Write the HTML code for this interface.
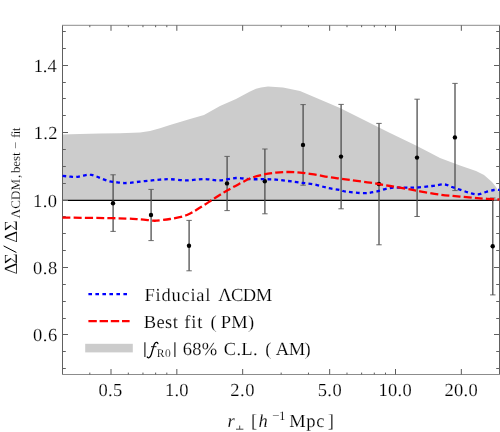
<!DOCTYPE html>
<html><head><meta charset="utf-8">
<style>
html,body{margin:0;padding:0;background:#fff;}
body{width:500px;height:432px;overflow:hidden;}
svg{display:block;will-change:transform;}
text{font-family:"Liberation Serif",serif;fill:#000;text-rendering:geometricPrecision;stroke:#fff;stroke-width:0.16px;}
</style></head><body>
<svg width="500" height="432" viewBox="0 0 500 432">
<rect width="500" height="432" fill="#fff"/>
<path fill="#cccccc" d="M62.5,200 L62.5,134.6 L80.0,134.0 L100.0,133.4 L120.0,133.2 L140.0,132.4 L150.0,131.0 L160.0,128.2 L170.0,125.0 L190.0,119.0 L204.0,115.0 L220.0,106.0 L236.0,99.0 L250.0,91.6 L256.0,88.8 L261.0,87.4 L268.0,86.4 L283.0,87.6 L300.0,91.0 L320.0,99.6 L340.0,108.0 L364.0,120.0 L390.0,133.0 L416.0,145.5 L430.0,152.8 L440.0,158.0 L460.0,165.6 L476.0,171.0 L484.0,175.0 L492.0,182.0 L496.0,187.0 L499.0,192.0 L499.5,200 Z"/>
<line x1="62.5" y1="200.3" x2="499.5" y2="200.3" stroke="#000" stroke-width="1.15"/>
<path d="M62.5,25 V375 M499.5,25 V375" stroke="#606060" stroke-width="1" fill="none"/>
<path d="M62,25.3 H500 M62,374.5 H500" stroke="#8c8c8c" stroke-width="1" fill="none"/>
<g stroke="#606060" stroke-width="1">
<line x1="62.50" y1="368.50" x2="65.80" y2="368.50"/>
<line x1="499.50" y1="368.50" x2="496.20" y2="368.50"/>
<line x1="62.50" y1="351.50" x2="65.80" y2="351.50"/>
<line x1="499.50" y1="351.50" x2="496.20" y2="351.50"/>
<line x1="62.50" y1="334.50" x2="68.00" y2="334.50"/>
<line x1="499.50" y1="334.50" x2="494.00" y2="334.50"/>
<line x1="62.50" y1="318.50" x2="65.80" y2="318.50"/>
<line x1="499.50" y1="318.50" x2="496.20" y2="318.50"/>
<line x1="62.50" y1="301.50" x2="65.80" y2="301.50"/>
<line x1="499.50" y1="301.50" x2="496.20" y2="301.50"/>
<line x1="62.50" y1="284.50" x2="65.80" y2="284.50"/>
<line x1="499.50" y1="284.50" x2="496.20" y2="284.50"/>
<line x1="62.50" y1="267.50" x2="68.00" y2="267.50"/>
<line x1="499.50" y1="267.50" x2="494.00" y2="267.50"/>
<line x1="62.50" y1="250.50" x2="65.80" y2="250.50"/>
<line x1="499.50" y1="250.50" x2="496.20" y2="250.50"/>
<line x1="62.50" y1="233.50" x2="65.80" y2="233.50"/>
<line x1="499.50" y1="233.50" x2="496.20" y2="233.50"/>
<line x1="62.50" y1="216.50" x2="65.80" y2="216.50"/>
<line x1="499.50" y1="216.50" x2="496.20" y2="216.50"/>
<line x1="62.50" y1="200.50" x2="68.00" y2="200.50"/>
<line x1="499.50" y1="200.50" x2="494.00" y2="200.50"/>
<line x1="62.50" y1="183.50" x2="65.80" y2="183.50"/>
<line x1="499.50" y1="183.50" x2="496.20" y2="183.50"/>
<line x1="62.50" y1="166.50" x2="65.80" y2="166.50"/>
<line x1="499.50" y1="166.50" x2="496.20" y2="166.50"/>
<line x1="62.50" y1="149.50" x2="65.80" y2="149.50"/>
<line x1="499.50" y1="149.50" x2="496.20" y2="149.50"/>
<line x1="62.50" y1="132.50" x2="68.00" y2="132.50"/>
<line x1="499.50" y1="132.50" x2="494.00" y2="132.50"/>
<line x1="62.50" y1="115.50" x2="65.80" y2="115.50"/>
<line x1="499.50" y1="115.50" x2="496.20" y2="115.50"/>
<line x1="62.50" y1="98.50" x2="65.80" y2="98.50"/>
<line x1="499.50" y1="98.50" x2="496.20" y2="98.50"/>
<line x1="62.50" y1="82.50" x2="65.80" y2="82.50"/>
<line x1="499.50" y1="82.50" x2="496.20" y2="82.50"/>
<line x1="62.50" y1="65.50" x2="68.00" y2="65.50"/>
<line x1="499.50" y1="65.50" x2="494.00" y2="65.50"/>
<line x1="62.50" y1="48.50" x2="65.80" y2="48.50"/>
<line x1="499.50" y1="48.50" x2="496.20" y2="48.50"/>
<line x1="62.50" y1="31.50" x2="65.80" y2="31.50"/>
<line x1="499.50" y1="31.50" x2="496.20" y2="31.50"/>
</g>
<g stroke="#5a5a5a" stroke-width="1">
<line x1="111.00" y1="374.50" x2="111.00" y2="369.00"/>
<line x1="111.00" y1="25.30" x2="111.00" y2="30.80"/>
<line x1="176.83" y1="374.50" x2="176.83" y2="369.00"/>
<line x1="176.83" y1="25.30" x2="176.83" y2="30.80"/>
<line x1="242.66" y1="374.50" x2="242.66" y2="369.00"/>
<line x1="242.66" y1="25.30" x2="242.66" y2="30.80"/>
<line x1="329.67" y1="374.50" x2="329.67" y2="369.00"/>
<line x1="329.67" y1="25.30" x2="329.67" y2="30.80"/>
<line x1="395.50" y1="374.50" x2="395.50" y2="369.00"/>
<line x1="395.50" y1="25.30" x2="395.50" y2="30.80"/>
<line x1="461.33" y1="374.50" x2="461.33" y2="369.00"/>
<line x1="461.33" y1="25.30" x2="461.33" y2="30.80"/>
<line x1="89.81" y1="374.50" x2="89.81" y2="372.60"/>
<line x1="89.81" y1="25.30" x2="89.81" y2="27.20"/>
<line x1="128.32" y1="374.50" x2="128.32" y2="372.60"/>
<line x1="128.32" y1="25.30" x2="128.32" y2="27.20"/>
<line x1="142.96" y1="374.50" x2="142.96" y2="372.60"/>
<line x1="142.96" y1="25.30" x2="142.96" y2="27.20"/>
<line x1="155.64" y1="374.50" x2="155.64" y2="372.60"/>
<line x1="155.64" y1="25.30" x2="155.64" y2="27.20"/>
<line x1="166.82" y1="374.50" x2="166.82" y2="372.60"/>
<line x1="166.82" y1="25.30" x2="166.82" y2="27.20"/>
<line x1="281.16" y1="374.50" x2="281.16" y2="372.60"/>
<line x1="281.16" y1="25.30" x2="281.16" y2="27.20"/>
<line x1="308.48" y1="374.50" x2="308.48" y2="372.60"/>
<line x1="308.48" y1="25.30" x2="308.48" y2="27.20"/>
<line x1="346.99" y1="374.50" x2="346.99" y2="372.60"/>
<line x1="346.99" y1="25.30" x2="346.99" y2="27.20"/>
<line x1="361.63" y1="374.50" x2="361.63" y2="372.60"/>
<line x1="361.63" y1="25.30" x2="361.63" y2="27.20"/>
<line x1="374.31" y1="374.50" x2="374.31" y2="372.60"/>
<line x1="374.31" y1="25.30" x2="374.31" y2="27.20"/>
<line x1="385.49" y1="374.50" x2="385.49" y2="372.60"/>
<line x1="385.49" y1="25.30" x2="385.49" y2="27.20"/>
</g>
<g stroke="#484848" stroke-width="1.25" fill="none">
<path d="M113.1,174.8 V231.4"/><path stroke-width="0.9" stroke="#5a5a5a" d="M110.4,174.8 H115.8 M110.4,231.4 H115.8"/>
<path d="M151.1,189.4 V240.6"/><path stroke-width="0.9" stroke="#5a5a5a" d="M148.4,189.4 H153.8 M148.4,240.6 H153.8"/>
<path d="M189.1,220.4 V270.8"/><path stroke-width="0.9" stroke="#5a5a5a" d="M186.4,220.4 H191.8 M186.4,270.8 H191.8"/>
<path d="M227.1,156.4 V210.6"/><path stroke-width="0.9" stroke="#5a5a5a" d="M224.4,156.4 H229.8 M224.4,210.6 H229.8"/>
<path d="M264.9,149.0 V213.8"/><path stroke-width="0.9" stroke="#5a5a5a" d="M262.2,149.0 H267.6 M262.2,213.8 H267.6"/>
<path d="M303.1,104.6 V185.2"/><path stroke-width="0.9" stroke="#5a5a5a" d="M300.4,104.6 H305.8 M300.4,185.2 H305.8"/>
<path d="M341.1,104.4 V208.8"/><path stroke-width="0.9" stroke="#5a5a5a" d="M338.4,104.4 H343.8 M338.4,208.8 H343.8"/>
<path d="M379.0,123.4 V244.8"/><path stroke-width="0.9" stroke="#5a5a5a" d="M376.3,123.4 H381.7 M376.3,244.8 H381.7"/>
<path d="M417.1,99.2 V216.5"/><path stroke-width="0.9" stroke="#5a5a5a" d="M414.4,99.2 H419.8 M414.4,216.5 H419.8"/>
<path d="M455.0,83.4 V190.6"/><path stroke-width="0.9" stroke="#5a5a5a" d="M452.3,83.4 H457.7 M452.3,190.6 H457.7"/>
<path d="M492.8,198.0 V294.9"/><path stroke-width="0.9" stroke="#5a5a5a" d="M490.1,198.0 H495.5 M490.1,294.9 H495.5"/>
</g>
<g fill="#000">
<circle cx="113.0" cy="203.2" r="2.2"/>
<circle cx="151.0" cy="215.0" r="2.2"/>
<circle cx="189.0" cy="245.8" r="2.2"/>
<circle cx="227.0" cy="183.4" r="2.2"/>
<circle cx="264.8" cy="181.2" r="2.2"/>
<circle cx="303.0" cy="144.9" r="2.2"/>
<circle cx="341.0" cy="156.6" r="2.2"/>
<circle cx="378.9" cy="184.0" r="2.2"/>
<circle cx="417.0" cy="157.6" r="2.2"/>
<circle cx="454.9" cy="137.4" r="2.2"/>
<circle cx="492.7" cy="246.2" r="2.2"/>
</g>
<path fill="none" stroke="#0000ff" stroke-width="2.3" stroke-dasharray="3.7 3.2" d="M62.5,175.9 C63.6,176.0 66.8,176.3 69.0,176.5 C71.2,176.7 73.7,177.2 76.0,177.0 C78.3,176.8 80.7,176.0 83.0,175.6 C85.3,175.2 87.8,174.5 90.0,174.7 C92.2,174.8 94.3,175.8 96.4,176.5 C98.5,177.2 100.5,178.2 102.7,179.0 C104.9,179.8 107.5,180.9 109.7,181.4 C111.9,181.9 113.8,181.9 116.0,182.2 C118.2,182.5 120.7,182.9 123.0,183.0 C125.3,183.1 127.2,183.0 130.0,182.8 C132.8,182.6 136.7,182.0 140.0,181.6 C143.3,181.2 146.7,180.9 150.0,180.6 C153.3,180.3 156.7,179.8 160.0,179.6 C163.3,179.4 165.5,179.1 170.0,179.2 C174.5,179.3 181.3,180.4 187.0,180.4 C192.7,180.4 198.5,179.0 204.0,179.0 C209.5,179.0 214.7,180.6 220.0,180.4 C225.3,180.2 231.0,178.2 236.0,178.0 C241.0,177.8 245.3,179.0 250.0,179.2 C254.7,179.4 259.7,179.1 264.0,179.2 C268.3,179.3 272.0,179.3 276.0,179.6 C280.0,179.9 284.0,180.5 288.0,181.0 C292.0,181.5 295.7,182.0 300.0,182.6 C304.3,183.2 309.3,183.5 314.0,184.4 C318.7,185.3 323.7,187.1 328.0,188.0 C332.3,188.9 337.0,189.4 340.0,190.0 C343.0,190.6 342.0,191.1 346.0,191.6 C350.0,192.1 359.0,193.2 364.0,193.2 C369.0,193.2 371.7,192.5 376.0,191.6 C380.3,190.7 385.3,188.7 390.0,188.0 C394.7,187.3 399.7,187.7 404.0,187.6 C408.3,187.5 411.3,187.9 416.0,187.6 C420.7,187.3 427.3,186.5 432.0,186.0 C436.7,185.5 440.7,184.2 444.0,184.4 C447.3,184.6 449.0,186.0 452.0,187.0 C455.0,188.0 459.0,189.4 462.0,190.4 C465.0,191.4 467.3,192.3 470.0,193.0 C472.7,193.7 475.3,194.6 478.0,194.4 C480.7,194.2 483.3,192.7 486.0,192.0 C488.7,191.3 491.8,190.3 494.0,190.0 C496.2,189.7 498.6,190.0 499.5,190.0"/>
<path fill="none" stroke="#ff0000" stroke-width="2.3" stroke-dasharray="8 3.2" d="M62.5,217.6 C70.9,217.7 102.1,218.0 113.0,218.2 C123.9,218.4 123.5,218.4 128.0,218.6 C132.5,218.8 135.8,219.1 140.0,219.4 C144.2,219.7 150.2,220.4 153.0,220.6 C155.8,220.8 154.2,220.9 157.0,220.6 C159.8,220.3 165.0,219.9 170.0,219.0 C175.0,218.1 181.8,217.0 187.0,215.0 C192.2,213.0 196.3,209.8 201.0,207.0 C205.7,204.2 210.5,200.8 215.0,198.0 C219.5,195.2 223.7,192.5 228.0,190.0 C232.3,187.5 237.2,185.0 241.0,183.0 C244.8,181.0 247.2,179.4 251.0,178.0 C254.8,176.6 259.8,175.3 264.0,174.4 C268.2,173.5 272.0,173.0 276.0,172.6 C280.0,172.2 284.0,172.0 288.0,172.0 C292.0,172.0 295.7,172.2 300.0,172.6 C304.3,173.0 309.3,173.7 314.0,174.4 C318.7,175.1 323.7,176.3 328.0,177.0 C332.3,177.7 336.3,178.1 340.0,178.6 C343.7,179.1 345.0,179.3 350.0,180.0 C355.0,180.7 363.3,181.6 370.0,182.6 C376.7,183.6 383.3,184.9 390.0,186.0 C396.7,187.1 405.0,188.5 410.0,189.4 C415.0,190.3 415.0,190.5 420.0,191.4 C425.0,192.3 433.3,193.7 440.0,194.6 C446.7,195.5 453.3,196.0 460.0,196.6 C466.7,197.2 473.4,197.9 480.0,198.4 C486.6,198.9 496.2,199.2 499.5,199.4"/>
<line x1="88.4" y1="294.1" x2="128" y2="294.1" stroke="#0000ff" stroke-width="2.3" stroke-dasharray="3.6 3.4"/>
<line x1="88.4" y1="321.1" x2="129.6" y2="321.1" stroke="#ff0000" stroke-width="2.3" stroke-dasharray="8.4 2.8"/>
<rect x="85.2" y="343.8" width="47.6" height="8.6" fill="#cccccc"/>
<path d="M236,429.2 H243.4 M239.7,425.6 V429.2" stroke="#333" stroke-width="0.9" fill="none"/>
<text x="144.44" y="300.50" font-size="18.5" letter-spacing="0.76">Fiducial</text>
<text x="218.21" y="300.50" font-size="18.5" letter-spacing="-0.56">ΛCDM</text>
<text x="143.64" y="327.90" font-size="18.5" letter-spacing="0.47">Best</text>
<text x="184.24" y="327.90" font-size="18.5" letter-spacing="0.82">fit</text>
<text x="210.59" y="327.90" font-size="18.5" letter-spacing="0.00">(</text>
<text x="220.64" y="327.90" font-size="18.5" letter-spacing="0.32">PM)</text>
<path d="M144.9,342.2 V357 M174.9,342.2 V357" stroke="#111" stroke-width="1.1" fill="none"/>
<path d="M157.9,343.6 C157.6,342.4 156.3,342 155.4,342.8 C154.2,343.8 153.8,345.5 153.3,347.5 L151.3,354.5 C150.8,356.3 150,357.6 148.8,357.8 C147.9,357.9 147.3,357.4 147.3,356.9" stroke="#000" stroke-width="1.25" fill="none" stroke-linecap="round"/><path d="M151,346.7 H156.5" stroke="#000" stroke-width="0.9"/>
<text x="156.69" y="357.20" font-size="11.5" letter-spacing="0.71">R0</text>
<text x="182.69" y="354.80" font-size="18.5" letter-spacing="0.28">68%</text>
<text x="223.85" y="354.80" font-size="18.5" letter-spacing="0.28">C.L.</text>
<text x="265.19" y="354.80" font-size="18.5" letter-spacing="0.00">(</text>
<text x="275.81" y="354.80" font-size="18.5" letter-spacing="-0.50">AM)</text>
<text x="33.67" y="71.70" font-size="18.5" letter-spacing="-0.04">1.4</text>
<text x="33.67" y="138.70" font-size="18.5" letter-spacing="0.30">1.2</text>
<text x="33.08" y="206.70" font-size="18.5" letter-spacing="0.44">1.0</text>
<text x="32.91" y="273.70" font-size="18.5" letter-spacing="0.62">0.8</text>
<text x="32.91" y="340.70" font-size="18.5" letter-spacing="0.56">0.6</text>
<text x="98.51" y="396.20" font-size="18.5" letter-spacing="0.31">0.5</text>
<text x="165.07" y="396.20" font-size="18.5" letter-spacing="0.19">1.0</text>
<text x="230.29" y="396.20" font-size="18.5" letter-spacing="0.54">2.0</text>
<text x="317.64" y="396.20" font-size="18.5" letter-spacing="0.46">5.0</text>
<text x="378.57" y="396.20" font-size="18.5" letter-spacing="0.25">10.0</text>
<text x="444.59" y="396.20" font-size="18.5" letter-spacing="0.24">20.0</text>
<text x="227.55" y="427.40" font-size="18.5" letter-spacing="0.00" font-style="italic">r</text>
<text x="250.93" y="427.40" font-size="18.5" letter-spacing="0.00">[</text>
<text x="258.51" y="427.40" font-size="18.5" letter-spacing="0.00" font-style="italic">h</text>
<text x="272.18" y="419.70" font-size="13" letter-spacing="-0.44">−1</text>
<text x="289.34" y="427.40" font-size="18.5" letter-spacing="0.58">Mpc</text>
<text x="327.71" y="427.40" font-size="18.5" letter-spacing="0.00">]</text>
<text transform="translate(16.60,274.59) rotate(-90)" font-size="18.5" letter-spacing="0.00">Δ</text>
<text transform="translate(16.60,263.95) rotate(-90)" font-size="18.5" letter-spacing="0.00">Σ</text>
<text transform="translate(16.60,242.69) rotate(-90)" font-size="18.5" letter-spacing="0.00">Δ</text>
<text transform="translate(16.60,230.95) rotate(-90)" font-size="18.5" letter-spacing="0.00">Σ</text>
<path d="M16.4,252.5 L3.6,245.9" stroke="#000" stroke-width="1" fill="none"/>
<text transform="translate(20.30,218.32) rotate(-90)" font-size="13" letter-spacing="0.08">ΛCDM</text>
<text transform="translate(20.30,178.10) rotate(-90)" font-size="13" letter-spacing="0.00">,</text>
<text transform="translate(20.30,173.10) rotate(-90)" font-size="13" letter-spacing="-0.09">best</text>
<text transform="translate(20.30,149.03) rotate(-90)" font-size="13" letter-spacing="0.00">−</text>
<text transform="translate(20.30,137.97) rotate(-90)" font-size="13" letter-spacing="-0.56">fit</text>
</svg>
</body></html>
